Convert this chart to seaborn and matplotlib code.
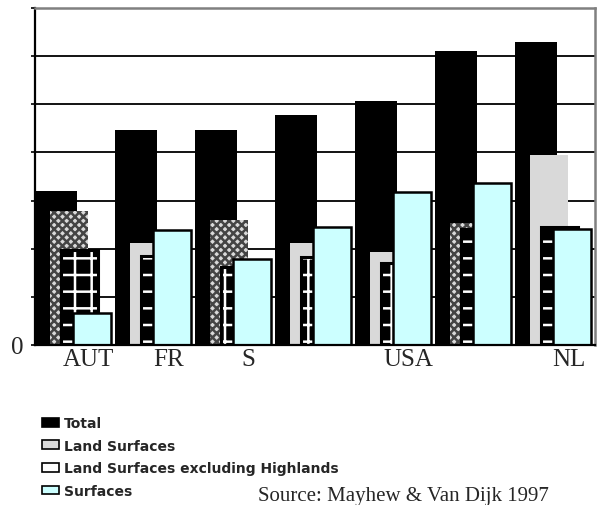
import matplotlib
matplotlib.use("Agg")
import matplotlib.pyplot as plt
from matplotlib.patches import Patch
import numpy as np
import seaborn as sns

# ---- data ----
groups = ["AUT", "FR", "S", "", "USA", "", "NL"]
total = [3.20, 4.46, 4.46, 4.77, 5.06, 6.10, 6.29]
land_surfaces = [2.78, 2.12, 2.59, 2.12, 1.93, 2.53, 3.94]
land_excl = [1.97, 1.85, 1.62, 1.83, 1.71, 2.40, 2.46]
surfaces = [0.66, 2.39, 1.78, 2.45, 3.17, 3.36, 2.40]
series_labels = ["Total", "Land Surfaces", "Land Surfaces excluding Highlands", "Surfaces"]
source_text = "Source: Mayhew & Van Dijk 1997"

sns.set_style("white")
plt.rcParams["font.family"] = ["DejaVu Sans"]
plt.rcParams["hatch.linewidth"] = 1.8

fig = plt.figure(figsize=(6.02, 5.06), dpi=100)
ax = fig.add_axes([35 / 602, 1 - 346 / 506, 560 / 602, 337 / 506])

idx = np.arange(len(groups))
GRAY = "#d9d9d9"
CYAN = "#ccffff"

# Total (back)
sns.barplot(x=idx + 0.26, y=total, native_scale=True, width=0.52,
            color="black", errorbar=None, ax=ax, saturation=1)
for p in ax.containers[-1]:
    p.set_linewidth(0)

# Land surfaces
sns.barplot(x=idx + 0.19 + 0.235, y=land_surfaces, native_scale=True, width=0.47,
            color=GRAY, errorbar=None, ax=ax, saturation=1)
for i, p in enumerate(ax.containers[-1]):
    p.set_linewidth(0)
    if i in (0, 2, 5):
        p.set_hatch("xxxx")
        p.set_edgecolor("#444444")

# Land surfaces excluding ... (black with white pattern, black outline)
sns.barplot(x=idx + 0.32 + 0.235, y=land_excl, native_scale=True, width=0.47,
            color="black", errorbar=None, ax=ax, saturation=1)
for p in ax.containers[-1]:
    p.set_linewidth(0)
    p.set_hatch("+")
    p.set_edgecolor("white")
sns.barplot(x=idx + 0.32 + 0.235, y=land_excl, native_scale=True, width=0.47,
            color="black", errorbar=None, ax=ax, fill=False, linewidth=2.2)

# Surfaces (front)
sns.barplot(x=idx + 0.47 + 0.24, y=surfaces, native_scale=True, width=0.48,
            color=CYAN, errorbar=None, ax=ax, saturation=1,
            edgecolor="black", linewidth=1.8)

# axes styling
ax.set_xlim(0, 7)
ax.set_ylim(0, 7)
ax.set_xticks(idx + 0.67)
ax.set_xticklabels(groups, family="Liberation Serif", fontsize=18)
ax.set_yticks(np.arange(0, 8))
ax.set_yticklabels(["0"] + [""] * 7, family="Liberation Serif", fontsize=18)
ax.tick_params(axis="x", length=0, pad=2)
ax.tick_params(axis="y", length=3, width=1.2, color="black", pad=5, direction="out", left=True)
ax.set_xlabel("")
ax.set_ylabel("")
ax.yaxis.grid(True, color="black", linewidth=1.3)
ax.xaxis.grid(False)
ax.set_axisbelow(True)
for side in ("top", "right"):
    ax.spines[side].set_color("#808080")
    ax.spines[side].set_linewidth(1.8)
for side in ("left", "bottom"):
    ax.spines[side].set_color("black")
    ax.spines[side].set_linewidth(1.6)

# legend
handles = [
    Patch(facecolor="black", edgecolor="black", linewidth=1.2),
    Patch(facecolor=GRAY, edgecolor="black", linewidth=1.2),
    Patch(facecolor="white", edgecolor="black", linewidth=1.2),
    Patch(facecolor=CYAN, edgecolor="black", linewidth=1.2),
]
fig.legend(handles, series_labels, loc="upper left",
           bbox_to_anchor=(42 / 602, 1 - 417 / 506), frameon=False,
           prop={"family": "DejaVu Sans", "weight": "bold", "size": 10},
           handlelength=1.2, handleheight=0.6, handletextpad=0.4,
           labelspacing=0.62, borderpad=0, borderaxespad=0)

fig.text(258 / 602, 0.0, source_text, family="Liberation Serif",
         fontsize=15, va="bottom", ha="left")

fig.savefig("out.png", dpi=100)
